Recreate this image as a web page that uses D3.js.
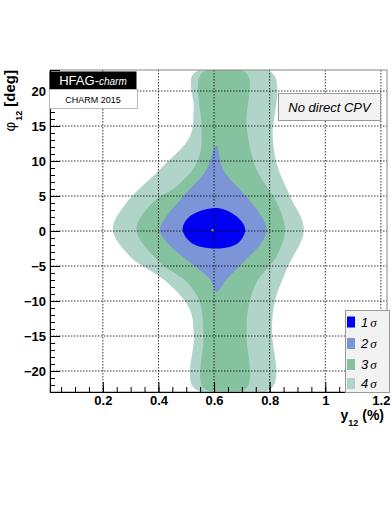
<!DOCTYPE html>
<html>
<head>
<meta charset="utf-8">
<script src="https://cdn.jsdelivr.net/npm/d3@7"></script>
<style>
body { margin: 0; background: #fff; }
text { font-family: "Liberation Sans", Arial, sans-serif; }
</style>
</head>
<body>
<div id="chart"></div>
<script>
// contour boundaries, [y12 (%), phi12 (deg)], going round clockwise
var sigma4 = [[0.527,22.5],[0.811,22.5],[0.811,13.5],[0.826,9.5],[0.873,5],[0.923,0.2],[0.862,-5.4],[0.819,-10],[0.808,-14],[0.808,-22.4],
  [0.527,-22.4],[0.527,-15],[0.513,-11.2],[0.43,-7.3],[0.297,-3.6],[0.236,0.2],[0.286,4.1],[0.405,8.8],[0.513,13.5],[0.527,17.4]];
var sigma3 = [[0.555,22.5],[0.717,22.5],[0.717,15],[0.753,8.8],[0.825,4.1],[0.855,0.2],[0.825,-3.6],[0.753,-7.3],[0.722,-11.2],[0.717,-15],[0.717,-22.4],
  [0.562,-22.4],[0.562,-15],[0.549,-10.2],[0.502,-7.3],[0.405,-4.5],[0.321,0.2],[0.38,4.1],[0.466,6.4],[0.531,9.2],[0.553,11.7],[0.555,15]];
var sigma2 = [[0.609,12.2],[0.632,8.8],[0.717,4.9],[0.77,2.1],[0.789,0.2],[0.772,-1.6],[0.704,-4.5],[0.645,-6.9],[0.609,-8.7],
  [0.585,-6.9],[0.513,-4.5],[0.429,-1.6],[0.405,0.2],[0.429,2.1],[0.488,4.9],[0.573,8.8]];
var sigma1 = [[0.609,3.3],[0.681,2.1],[0.712,0.2],[0.687,-1.7],[0.609,-2.5],[0.519,-1.7],[0.487,0.2],[0.513,2.1]];
var bestFit = [0.595, 0.1];

var xTicks = [0.2, 0.4, 0.6, 0.8, 1, 1.2];
var yTicks = [-20, -15, -10, -5, 0, 5, 10, 15, 20];
var legendLabels = ["1", "2", "3", "4"];

var width = 392, height = 508;
var pLeft = 50, pRight = 387, pTop = 70, pBottom = 392;

var x = d3.scaleLinear().domain([0.01, 1.222]).range([pLeft, pRight]);
var y = d3.scaleLinear().domain([-23, 23]).range([pBottom, pTop]);

var colors = ["#0000f2", "#7b95d6", "#85c3a0", "#b0d4c8"];

var svg = d3.select("#chart").append("svg")
    .attr("width", width)
    .attr("height", height);

svg.append("clipPath").attr("id", "clip")
    .append("rect").attr("x", pLeft).attr("y", pTop).attr("width", pRight - pLeft).attr("height", pBottom - pTop);

var shape = d3.line()
    .x(function (d) { return x(d[0]); })
    .y(function (d) { return y(d[1]); })
    .curve(d3.curveCatmullRomClosed.alpha(0.5));

var g = svg.append("g").attr("clip-path", "url(#clip)");
[sigma4, sigma3, sigma2, sigma1].forEach(function (pts, i) {
    g.append("path")
        .attr("d", shape(pts))
        .attr("fill", colors[3 - i]);
});

g.append("rect")
    .attr("x", x(bestFit[0]) - 1)
    .attr("y", y(bestFit[1]) - 1)
    .attr("width", 2).attr("height", 2)
    .attr("fill", "#ffe000");

// dotted grid on top of the contours
svg.selectAll("line.gx")
    .data(xTicks)
    .enter().append("line")
    .attr("class", "gx")
    .attr("x1", x).attr("x2", x)
    .attr("y1", pTop).attr("y2", pBottom)
    .attr("stroke", "#000").attr("stroke-width", 0.8)
    .attr("stroke-dasharray", "1.5,1.5");
svg.selectAll("line.gy")
    .data(yTicks)
    .enter().append("line")
    .attr("class", "gy")
    .attr("x1", pLeft).attr("x2", pRight)
    .attr("y1", y).attr("y2", y)
    .attr("stroke", "#000").attr("stroke-width", 0.8)
    .attr("stroke-dasharray", "1.5,1.5");

// frame
svg.append("rect")
    .attr("x", pLeft).attr("y", pTop)
    .attr("width", pRight - pLeft).attr("height", pBottom - pTop)
    .attr("fill", "none").attr("stroke", "#888").attr("stroke-width", 1);

// axes, ticks pointing inwards like ROOT
var xMinor = d3.range(0.05, 1.22, 0.05);
var yMinor = d3.range(-23, 24, 1);

var xAxis = svg.append("g").attr("transform", "translate(0," + pBottom + ")");
xAxis.call(d3.axisBottom(x).tickValues(xMinor).tickSize(-5).tickFormat(""));
xAxis.select(".domain").remove();
var xAxisMaj = svg.append("g").attr("transform", "translate(0," + pBottom + ")")
    .call(d3.axisBottom(x).tickValues(xTicks).tickSize(-10).tickPadding(4)
        .tickFormat(function (d) { return String(d); }));
xAxisMaj.select(".domain").attr("stroke", "#000");
xAxisMaj.selectAll("text")
    .attr("font-size", 13).attr("font-weight", "bold")
    .attr("font-family", "Liberation Sans, Arial, sans-serif");

var yAxis = svg.append("g").attr("transform", "translate(" + pLeft + ",0)");
yAxis.call(d3.axisLeft(y).tickValues(yMinor).tickSize(-5).tickFormat(""));
yAxis.select(".domain").remove();
var yAxisMaj = svg.append("g").attr("transform", "translate(" + pLeft + ",0)")
    .call(d3.axisLeft(y).tickValues(yTicks).tickSize(-10).tickPadding(4)
        .tickFormat(function (d) { return d < 0 ? "\u2212" + (-d) : String(d); }));
yAxisMaj.select(".domain").attr("stroke", "#000");
yAxisMaj.selectAll("text")
    .attr("font-size", 13).attr("font-weight", "bold")
    .attr("font-family", "Liberation Sans, Arial, sans-serif");
svg.selectAll(".tick line").attr("stroke", "#000");

// axis titles
var xt = svg.append("text")
    .attr("x", 384).attr("y", 420)
    .attr("text-anchor", "end")
    .attr("font-size", 14).attr("font-weight", "bold");
xt.append("tspan").text("y");
xt.append("tspan").attr("dy", 6).attr("font-size", 9).text("12");
xt.append("tspan").attr("dy", -6).text(" (%)");

var yt = svg.append("text")
    .attr("transform", "translate(15,70) rotate(-90)")
    .attr("text-anchor", "end")
    .attr("font-size", 15).attr("font-weight", "bold");
yt.append("tspan").attr("font-weight", "normal").text("\u03c6");
yt.append("tspan").attr("dy", 7).attr("dx", 1).attr("font-size", 9).text("12");
yt.append("tspan").attr("dy", -7).text("  [deg]");

// HFAG label
svg.append("rect").attr("x", 49.5).attr("y", 71.5).attr("width", 87).attr("height", 18).attr("fill", "#000");
svg.append("rect").attr("x", 49.5).attr("y", 89.5).attr("width", 88).attr("height", 19)
    .attr("fill", "#fff").attr("stroke", "#bbb");
var hf = svg.append("text").attr("x", 93).attr("y", 85).attr("text-anchor", "middle").attr("fill", "#fff");
hf.append("tspan").attr("font-size", 13).text("HFAG-");
hf.append("tspan").attr("font-size", 10).attr("font-style", "italic").text("charm");
svg.append("text").attr("x", 93).attr("y", 102.5).attr("text-anchor", "middle")
    .attr("font-size", 9).text("CHARM 2015");

// No direct CPV box
svg.append("rect").attr("x", 278.5).attr("y", 93.5).attr("width", 102).attr("height", 27)
    .attr("fill", "#f2f2f2").attr("stroke", "#999");
svg.append("text").attr("x", 329.5).attr("y", 112).attr("text-anchor", "middle")
    .attr("font-size", 13).attr("font-style", "italic").text("No direct CPV");

// legend
svg.append("rect").attr("x", 345.5).attr("y", 310.5).attr("width", 44).attr("height", 82)
    .attr("fill", "#f2f2f2").attr("stroke", "#999");
var leg = svg.selectAll("g.leg")
    .data(legendLabels)
    .enter().append("g")
    .attr("class", "leg")
    .attr("transform", function (d, i) { return "translate(347," + [321.5, 343, 364, 383][i] + ")"; });
leg.append("rect").attr("x", 0).attr("y", -5).attr("width", 8).attr("height", 11)
    .attr("fill", function (d, i) { return colors[i]; });
var lt = leg.append("text").attr("x", 14).attr("y", 5).attr("font-size", 13);
lt.append("tspan").attr("font-style", "italic").text(function (d) { return d; });
lt.append("tspan").attr("font-family", "Liberation Serif, serif").attr("font-style", "italic").attr("dx", 2).text("\u03c3");
</script>
</body>
</html>
